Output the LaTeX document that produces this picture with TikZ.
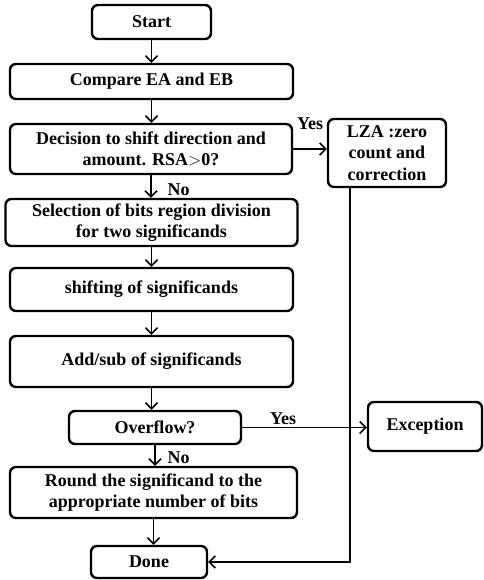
\documentclass[tikz,border=0pt]{standalone}
\usepackage{fontspec}
\setmainfont{Liberation Serif}
\usetikzlibrary{arrows.meta}
\begin{document}
\begin{tikzpicture}[x=1pt, y=-1pt, >={Straight Barb[length=6pt,width=12pt]},
    font=\bfseries\fontsize{18}{21.5}\selectfont,
    box/.style={draw, line width=2.4pt, rounded corners=6pt, align=center, inner sep=0pt},
    link/.style={line width=1.5pt, ->}]

    \useasboundingbox (0,0) rectangle (483,580);

    % --- Colonna principale ---
    \node[box, minimum width=119pt, minimum height=34pt] (start) at (151.5,22) {Start};
    \node[box, minimum width=283pt, minimum height=35pt] (cmp) at (151.5,81.5) {Compare EA and EB};
    \node[box, minimum width=282pt, minimum height=50pt] (dec) at (151,149)
        {Decision to shift direction and\\amount. RSA$>$0?};
    \node[box, minimum width=292pt, minimum height=47pt] (sel) at (151.5,222.5)
        {Selection of bits region division\\for two significands};
    \node[box, minimum width=283pt, minimum height=43pt] (shf) at (151.5,289.5) {shifting of significands};
    \node[box, minimum width=283pt, minimum height=51pt] (add) at (151.5,361.5) {Add/sub of significands};
    \node[box, minimum width=172pt, minimum height=33pt] (ovf) at (155,427.5) {Overflow?};
    \node[box, minimum width=287pt, minimum height=51pt] (rnd) at (153.5,492.5)
        {Round the significand to the\\appropriate number of bits};
    \node[box, minimum width=116pt, minimum height=32pt] (done) at (149,562) {Done};

    % --- Blocchi laterali ---
    \node[box, minimum width=118pt, minimum height=68pt] (lza) at (387,153)
        {LZA :zero\\count and\\correction};
    \node[box, minimum width=114pt, minimum height=49pt] (exc) at (425,426.5) {Exception};

    % --- Frecce verticali ---
    \foreach \a/\b in {start/cmp, cmp/dec, dec/sel, sel/shf, shf/add, add/ovf, ovf/rnd, rnd/done}
        \draw[link] (\a.south) -- (\a.south |- \b.north);

    % --- Rami Yes ---
    \draw[link] (dec.east) -- (dec.east -| lza.west);
    \draw[link] (ovf.east) -- (ovf.east -| exc.west);
    \draw[link] ([xshift=-37pt]lza.south) |- (done.east);

    % --- Etichette ---
    \node (yes1) at (310,124) {Yes};
    \node (yes2) at (283,419) {Yes};
    \node[anchor=west] (no1) at (164,190) {No};
    \node[anchor=west] (no2) at (164,458) {No};

\end{tikzpicture}
\end{document}
